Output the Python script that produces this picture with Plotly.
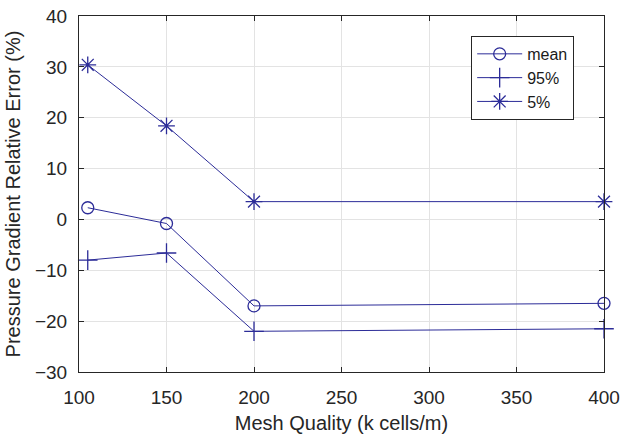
import plotly.graph_objects as go

# Mesh resolution (k cells/m) and relative error of the pressure gradient (%)
mesh_quality = [105, 150, 200, 400]
err_mean = [2.3, -0.8, -17.0, -16.5]
err_p95 = [-8.0, -6.6, -22.0, -21.5]
err_p5 = [30.4, 18.4, 3.5, 3.5]

series_names = ["mean", "95%", "5%"]
x_ticks = [100, 150, 200, 250, 300, 350, 400]
y_ticks = [-30, -20, -10, 0, 10, 20, 30, 40]

line_color = "#2c2c98"
axis_color = "#262626"
grid_color = "#e3e3e3"
font_family = "Liberation Sans, Arial, sans-serif"

fig = go.Figure()

symbols = ["circle-open", "cross-thin-open", "asterisk-open"]
sizes = [12, 14, 14]
for name, vals, sym, sz in zip(series_names, [err_mean, err_p95, err_p5], symbols, sizes):
    fig.add_trace(go.Scatter(
        x=mesh_quality, y=vals, name=name, mode="lines+markers",
        line=dict(color=line_color, width=1),
        marker=dict(symbol=sym, size=sz, color=line_color,
                    line=dict(color=line_color, width=1.3)),
        cliponaxis=False,
    ))

axis_common = dict(
    showline=True, linecolor=axis_color, linewidth=1, mirror="ticks",
    ticks="inside", ticklen=5, tickcolor=axis_color,
    showgrid=True, gridcolor=grid_color, gridwidth=1,
    zeroline=False, automargin=False,
    tickfont=dict(family=font_family, size=19, color="#262626"),
)

fig.update_layout(
    width=621, height=435,
    margin=dict(l=79, r=17, t=16, b=63),
    paper_bgcolor="white", plot_bgcolor="white",
    font=dict(family=font_family, color="#262626"),
    xaxis=dict(range=[100, 400], tickvals=x_ticks, ticklabelstandoff=8,
               title=dict(text="Mesh Quality (k cells/m)",
                          font=dict(family=font_family, size=20), standoff=9),
               **axis_common),
    yaxis=dict(range=[-30, 40], tickvals=y_ticks, ticklabelstandoff=7,
               title=dict(text="Pressure Gradient Relative Error (%)",
                          font=dict(family=font_family, size=20), standoff=8),
               **axis_common),
    legend=dict(
        x=0.747, y=0.944, xanchor="left", yanchor="top",
        bgcolor="white", bordercolor=axis_color, borderwidth=1,
        font=dict(family=font_family, size=16, color="#1a1a1a"),
        itemwidth=45, tracegroupgap=0,
    ),
    showlegend=True,
)

fig.write_html("out.html")
